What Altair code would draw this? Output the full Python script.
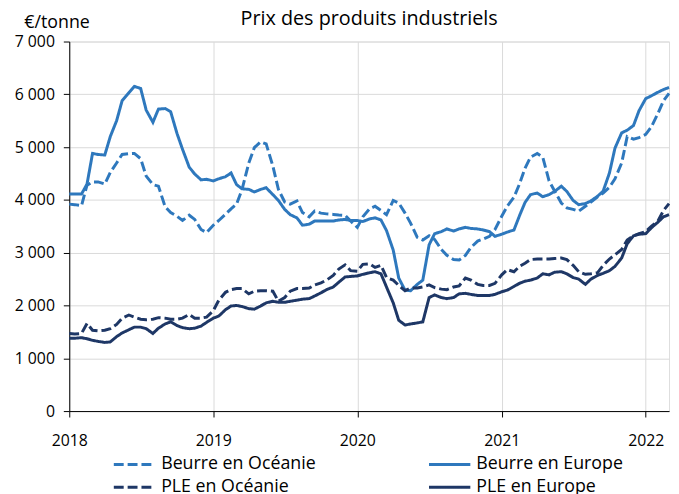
import altair as alt
import pandas as pd

dates = pd.date_range("2018-01-01", "2022-03-01", freq="SMS")

series = ["Beurre en Océanie", "Beurre en Europe", "PLE en Océanie", "PLE en Europe"]
# legend is filled column by column: this order gives rows (Beurre Océanie, Beurre Europe), (PLE Océanie, PLE Europe)
legend_order = ["Beurre en Océanie", "PLE en Océanie", "Beurre en Europe", "PLE en Europe"]

beurre_europe = [
    4110, 4110, 4110, 4300, 4880, 4860, 4850, 5200, 5500, 5880, 6030, 6150, 6110, 5700, 5470, 5720, 5730, 5670, 5260, 4960, 4620, 4490, 4380, 4390, 4360,
    4400, 4440, 4510, 4290, 4210, 4200, 4150, 4200, 4230, 4100, 3990, 3820, 3720, 3660, 3520, 3540, 3600, 3600, 3600, 3600, 3620, 3630, 3610, 3610,
    3590, 3640, 3660, 3620, 3420, 3050, 2520, 2290, 2280, 2400, 2480, 3150, 3360, 3400, 3450, 3410, 3450, 3480, 3460, 3450, 3430, 3400, 3310, 3350,
    3390, 3430, 3700, 3950, 4100, 4130, 4060, 4100, 4160, 4260, 4160, 3990, 3910, 3930, 3980, 4070, 4165, 4510, 4980, 5270, 5320, 5410, 5690, 5920, 5970, 6040, 6090, 6130,
]
beurre_oceanie = [
    3920, 3910, 3890, 4280, 4340, 4340, 4300, 4520, 4700, 4860, 4875, 4880, 4780, 4450, 4290, 4260, 3870, 3760, 3690, 3610, 3710, 3630, 3440, 3380, 3520,
    3610, 3730, 3830, 3920, 4200, 4700, 4990, 5100, 5060, 4640, 4200, 3960, 3920, 3980, 3760, 3680, 3790, 3750, 3735, 3725, 3715, 3708, 3600, 3480,
    3680, 3830, 3880, 3800, 3720, 3990, 3940, 3750, 3560, 3290, 3240, 3320, 3250, 3060, 2950, 2870, 2860, 2950, 3100, 3220, 3260, 3310, 3440, 3690,
    3880, 4050, 4300, 4600, 4810, 4880, 4810, 4360, 4170, 3940, 3850, 3820, 3785, 3880, 3960, 4060, 4130, 4240, 4400, 4700, 5200, 5150, 5180, 5240, 5380, 5640, 5880, 6020,
]
ple_oceanie = [
    1470, 1460, 1470, 1660, 1530, 1520, 1530, 1560, 1640, 1760, 1820, 1780, 1740, 1730, 1740, 1770, 1760, 1740, 1740, 1760, 1830, 1760, 1760, 1780, 1900,
    2100, 2250, 2300, 2320, 2320, 2220, 2270, 2280, 2280, 2270, 2080, 2150, 2270, 2320, 2320, 2330, 2390, 2430, 2480, 2570, 2690, 2770, 2660, 2650,
    2780, 2790, 2720, 2760, 2530, 2480, 2380, 2280, 2330, 2330, 2350, 2390, 2340, 2310, 2300, 2350, 2370, 2520, 2480, 2400, 2380, 2380, 2420, 2580,
    2680, 2640, 2740, 2800, 2870, 2880, 2880, 2880, 2890, 2900, 2870, 2760, 2640, 2590, 2600, 2620, 2760, 2880, 2960, 3060, 3240, 3320, 3360, 3400, 3500, 3600, 3800, 3930,
]
ple_europe = [
    1380, 1380, 1390, 1370, 1340, 1320, 1300, 1310, 1410, 1480, 1540, 1590, 1590, 1560, 1470, 1570, 1650, 1690, 1620, 1580, 1560, 1570, 1610, 1680, 1760,
    1800, 1920, 1990, 2000, 1980, 1940, 1930, 1990, 2050, 2080, 2060, 2060, 2080, 2100, 2120, 2130, 2180, 2240, 2300, 2350, 2440, 2540, 2550, 2560,
    2590, 2620, 2640, 2600, 2350, 2050, 1720, 1630, 1650, 1670, 1690, 2150, 2200, 2150, 2130, 2150, 2220, 2230, 2210, 2190, 2190, 2190, 2210, 2260,
    2290, 2360, 2420, 2460, 2480, 2520, 2600, 2580, 2630, 2640, 2600, 2530, 2500, 2400, 2500, 2570, 2610, 2660, 2740, 2900, 3170, 3320, 3350, 3360, 3470, 3580, 3680, 3720,
]

values = {
    "Beurre en Océanie": beurre_oceanie,
    "Beurre en Europe": beurre_europe,
    "PLE en Océanie": ple_oceanie,
    "PLE en Europe": ple_europe,
}
colors = {
    "Beurre en Océanie": "#2e78bd",
    "Beurre en Europe": "#2e78bd",
    "PLE en Océanie": "#1e3766",
    "PLE en Europe": "#1e3766",
}
dashes = {
    "Beurre en Océanie": [10, 4],
    "Beurre en Europe": [1, 0],
    "PLE en Océanie": [10, 4],
    "PLE en Europe": [1, 0],
}

rows = []
for name in series:
    vals = values[name]
    for d, v in zip(dates, vals):
        rows.append({"date": d, "serie": name, "valeur": v})
df = pd.DataFrame(rows)

FONT = "Open Sans"

year_ticks = [alt.DateTime(year=y, month=1, date=1) for y in range(2018, 2023)]


def make_legend():
    return alt.Legend(
        title=None, orient="none", legendX=57, legendY=419,
        columns=2, columnPadding=108, rowPadding=5,
        symbolType="M-5,0H5", symbolSize=70, symbolStrokeWidth=3,
        labelFontSize=18, labelFont=FONT, labelColor="black", labelOffset=18,
        labelLimit=300,
    )


chart = alt.Chart(df).mark_line(strokeWidth=3).encode(
    x=alt.X(
        "date:T",
        scale=alt.Scale(domain=[alt.DateTime(year=2018, month=1, date=1),
                                alt.DateTime(year=2022, month=3, date=1)]),
        axis=alt.Axis(
            title=None, values=year_ticks, format="%Y",
            grid=True, gridColor="#d9d9d9", domainColor="black",
            tickColor="black", tickSize=6, labelPadding=16, labelFlush=False,
            labelFontSize=16, labelColor="black", labelFont=FONT,
        ),
    ),
    y=alt.Y(
        "valeur:Q",
        scale=alt.Scale(domain=[0, 7000], nice=False),
        axis=alt.Axis(
            title="€/tonne", titleAngle=0, titleX=-46, titleY=-14,
            titleAlign="left", titleBaseline="alphabetic",
            titleFontSize=18, titleFontWeight="normal", titleFont=FONT, titleColor="black",
            values=list(range(0, 7001, 1000)),
            labelExpr="replace(format(datum.value, ','), ',', ' ')",
            grid=True, gridColor="#d9d9d9", domainColor="black",
            tickColor="black", tickSize=6, labelPadding=9,
            labelFontSize=16, labelColor="black", labelFont=FONT,
        ),
    ),
    color=alt.Color(
        "serie:N",
        scale=alt.Scale(domain=legend_order, range=[colors[s] for s in legend_order]),
        legend=make_legend(),
    ),
    strokeDash=alt.StrokeDash(
        "serie:N",
        scale=alt.Scale(domain=legend_order, range=[dashes[s] for s in legend_order]),
        legend=make_legend(),
    ),
).properties(
    width=607,
    height=374,
    title=alt.TitleParams(
        "Prix des produits industriels", fontSize=20, fontWeight="normal",
        font=FONT, color="black", anchor="middle", offset=12, dy=27,
    ),
    autosize=alt.AutoSizeParams(type="none"),
    padding={"left": 62, "top": 31, "right": 2, "bottom": 81},
).configure_view(stroke=None).configure(background="white")

chart.save("out.html", embed_options={"renderer": "svg", "actions": False})
